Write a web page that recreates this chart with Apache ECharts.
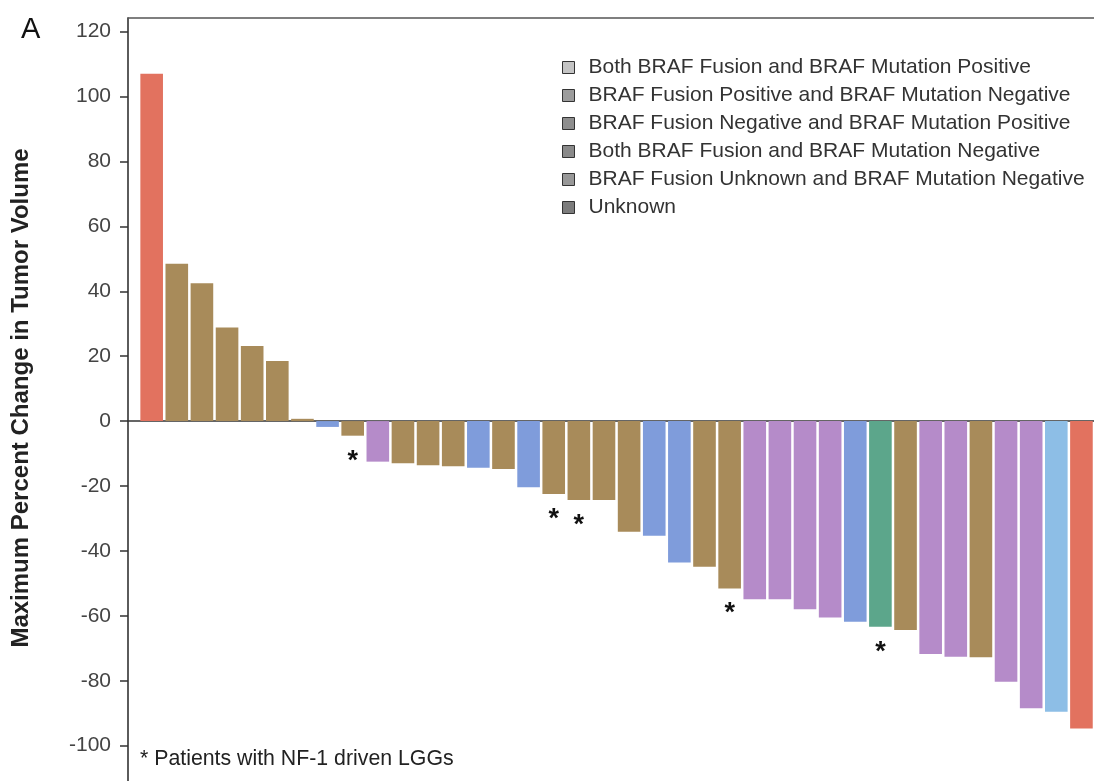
<!DOCTYPE html>
<html>
<head>
<meta charset="utf-8">
<script src="https://cdn.jsdelivr.net/npm/echarts@6/dist/echarts.min.js"></script>
<style>
  html, body { margin: 0; padding: 0; background: #fff; }
  #chart { width: 1094px; height: 781px; }
</style>
</head>
<body>
<div id="chart"></div>
<script>
// Maximum percent change in tumor volume, one bar per patient (waterfall order)
const values = [107, 48.5, 42.5, 28.8, 23.1, 18.5, 0.7, -1.8, -4.5, -12.5,
  -13.0, -13.6, -13.9, -14.4, -14.8, -20.4, -22.5, -24.3, -24.3, -34.1,
  -35.3, -43.6, -44.9, -51.6, -54.9, -54.9, -58.0, -60.5, -61.8, -63.4,
  -64.4, -71.8, -72.6, -72.8, -80.3, -88.5, -89.6, -94.7];

// Molecular group of each patient (index into groupNames)
const groups = [5, 1, 1, 1, 1, 1, 1, 2, 1, 3,
  1, 1, 1, 2, 1, 2, 1, 1, 1, 1,
  2, 2, 1, 1, 3, 3, 3, 3, 2, 0,
  1, 3, 3, 1, 3, 3, 4, 5];

// 1 = patient with NF-1 driven LGG (marked with an asterisk)
const nf1 = [0, 0, 0, 0, 0, 0, 0, 0, 1, 0,
  0, 0, 0, 0, 0, 0, 1, 1, 0, 0,
  0, 0, 0, 1, 0, 0, 0, 0, 0, 1,
  0, 0, 0, 0, 0, 0, 0, 0];

const groupNames = [
  'Both BRAF Fusion and BRAF Mutation Positive',
  'BRAF Fusion Positive and BRAF Mutation Negative',
  'BRAF Fusion Negative and BRAF Mutation Positive',
  'Both BRAF Fusion and BRAF Mutation Negative',
  'BRAF Fusion Unknown and BRAF Mutation Negative',
  'Unknown'
];
const groupColors = ['#5ca68b', '#a88b5a', '#7f9cdb', '#b58bc9', '#8dbee6', '#e2725f'];
const legendGrays = ['#c4c4c4', '#9c9c9c', '#8e8e8e', '#8a8a8a', '#989898', '#7c7c7c'];

const yTicks = [-100, -80, -60, -40, -20, 0, 20, 40, 60, 80, 100, 120];
const footnote = '* Patients with NF-1 driven LGGs';
const panelLetter = 'A';
const yTitle = 'Maximum Percent Change in Tumor Volume';

const patients = values.map((_, i) => 'P' + (i + 1));

// Value range of the frame: the axis runs past the bottom edge of the page
const yMin = -110.9, yMax = 124.2;
const FONT = '"Liberation Sans", Arial, sans-serif';

const series = groupNames.map((name, g) => ({
  name: name,
  type: 'bar',
  stack: 'all',
  xAxisIndex: 2,
  yAxisIndex: 1,
  barCategoryGap: '10%',
  itemStyle: { color: groupColors[g] },
  label: {
    show: false,
    position: 'bottom',
    distance: 12,
    formatter: '*',
    fontSize: 27,
    fontWeight: 'bold',
    fontFamily: FONT,
    color: '#111'
  },
  emphasis: { disabled: true },
  data: values.map((v, i) => {
    if (groups[i] !== g) return '-';
    return nf1[i] ? { value: v, label: { show: true } } : v;
  })
}));

const chart = echarts.init(document.getElementById('chart'), null, { renderer: 'canvas' });
chart.setOption({
  backgroundColor: '#fff',
  animation: false,
  grid: [
    { left: 128, right: 0, top: 18, bottom: 0 },
    { left: 139.1, right: 0, top: 18, bottom: 0 }
  ],
  xAxis: [
    { // zero line
      gridIndex: 0, type: 'category', data: [], position: 'bottom',
      axisLine: { onZero: true, lineStyle: { color: '#333', width: 1.6 } },
      axisTick: { show: false }, axisLabel: { show: false }
    },
    { // top frame
      gridIndex: 0, type: 'category', data: [], position: 'top',
      axisLine: { onZero: false, lineStyle: { color: '#555', width: 1.5 } },
      axisTick: { show: false }, axisLabel: { show: false }
    },
    { // patients
      gridIndex: 1, type: 'category', data: patients,
      axisLine: { show: false }, axisTick: { show: false }, axisLabel: { show: false }
    }
  ],
  yAxis: [
    {
      gridIndex: 0, type: 'value', min: yMin, max: yMax,
      axisLine: { show: true, lineStyle: { color: '#333', width: 1.6 } },
      axisTick: { show: true, length: 8, customValues: yTicks, lineStyle: { color: '#333', width: 1.5 } },
      axisLabel: {
        customValues: yTicks, margin: 17,
        fontSize: 21, fontFamily: FONT, color: '#444'
      },
      splitLine: { show: false }
    },
    {
      gridIndex: 1, type: 'value', min: yMin, max: yMax, show: false,
      splitLine: { show: false }
    }
  ],
  legend: {
    orient: 'vertical',
    left: 562,
    top: 57,
    padding: 0,
    itemWidth: 12,
    itemHeight: 12,
    itemGap: 7,
    selectedMode: false,
    icon: 'rect',
    textStyle: {
      fontSize: 21, fontFamily: FONT, color: '#333', lineHeight: 21,
      padding: [0, 0, 0, 9]
    },
    data: groupNames.map((n, g) => ({
      name: n,
      itemStyle: { color: legendGrays[g], borderColor: '#333', borderWidth: 1 }
    }))
  },
  graphic: [
    {
      type: 'text', left: 21, top: 15,
      style: { text: panelLetter, font: '29px ' + FONT, fill: '#111' }
    },
    {
      type: 'text', x: 21, y: 398, rotation: Math.PI / 2,
      style: {
        text: yTitle, font: 'bold 24px ' + FONT, fill: '#222',
        align: 'center', verticalAlign: 'middle'
      }
    },
    {
      type: 'text', left: 140, top: 749,
      style: { text: footnote, font: '21.3px ' + FONT, fill: '#222' }
    }
  ],
  series: series
});
</script>
</body>
</html>
